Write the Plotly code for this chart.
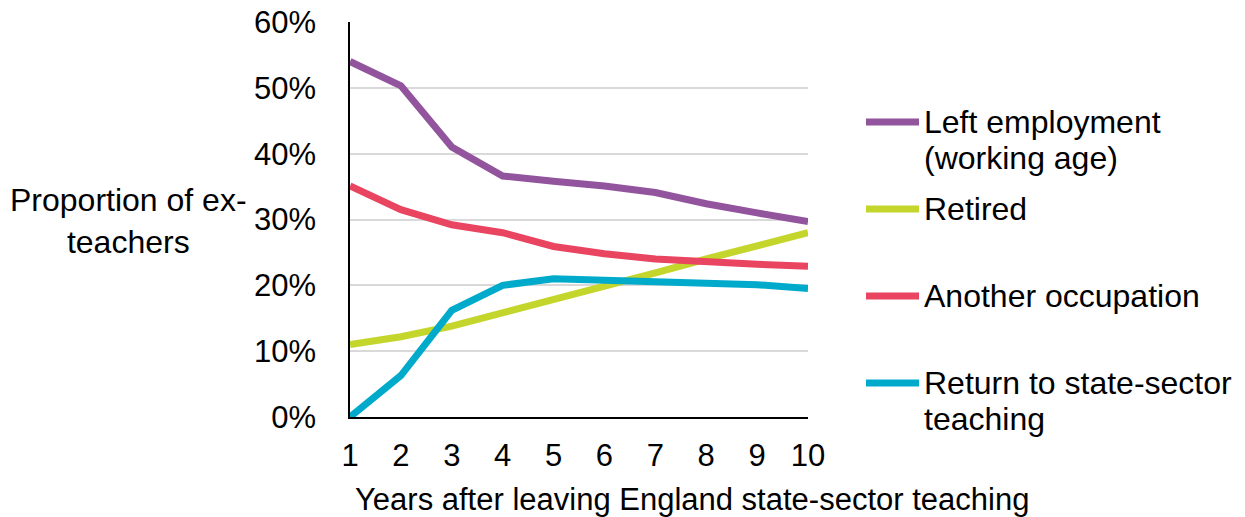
import plotly.graph_objects as go

# Years after leaving state-sector teaching
years = [1, 2, 3, 4, 5, 6, 7, 8, 9, 10]

# Proportion of ex-teachers in each destination
left_employment = [0.540, 0.503, 0.410, 0.366, 0.358, 0.351, 0.341, 0.324, 0.310, 0.297]
retired = [0.110, 0.122, 0.138, 0.158, 0.177, 0.198, 0.219, 0.240, 0.260, 0.280]
another_occupation = [0.351, 0.315, 0.292, 0.280, 0.259, 0.248, 0.240, 0.235, 0.232, 0.229]
return_to_teaching = [0.000, 0.063, 0.162, 0.200, 0.210, 0.208, 0.204, 0.204, 0.201, 0.195]

series_names = [
    ["Left employment", "(working age)"],
    ["Retired"],
    ["Another occupation"],
    ["Return to state-sector", "teaching"],
]
series_values = [left_employment, retired, another_occupation, return_to_teaching]
series_colors = ["#93549E", "#C4D52B", "#E94460", "#00AACB"]

y_ticks = [0, 0.1, 0.2, 0.3, 0.4, 0.5, 0.6]
y_tick_labels = ["0%", "10%", "20%", "30%", "40%", "50%", "60%"]

FONT = "Liberation Sans, Arial, sans-serif"
W, H = 1245, 517
ML, MR, MT, MB = 350, 437, 22, 100
PW, PH = W - ML - MR, H - MT - MB


def px_x(px):
    return (px - ML) / PW


def px_y(py):
    return 1 - (py - MT) / PH


fig = go.Figure()
for name, vals, color in zip(series_names, series_values, series_colors):
    fig.add_trace(go.Scatter(
        x=years, y=vals, mode="lines", name=" ".join(name),
        line=dict(color=color, width=7),
        showlegend=False, hoverinfo="skip",
    ))

# Hand-built legend to the right of the plot area
legend_rows = [122, 209, 296, 383]
line_step = 36
for row_y, name, color in zip(legend_rows, series_names, series_colors):
    fig.add_shape(
        type="line", xref="paper", yref="paper",
        x0=px_x(866), x1=px_x(919), y0=px_y(row_y), y1=px_y(row_y),
        line=dict(color=color, width=7),
    )
    for i, part in enumerate(name):
        fig.add_annotation(
            xref="paper", yref="paper", x=px_x(922), y=px_y(row_y + i * line_step),
            text=part, showarrow=False, xanchor="left", yanchor="middle",
            font=dict(family=FONT, size=32, color="#000000"),
        )

# Horizontal y-axis title
fig.add_annotation(
    xref="paper", yref="paper", x=px_x(128), y=px_y(221),
    text="Proportion of ex-<br>teachers", showarrow=False,
    xanchor="center", yanchor="middle", align="center",
    font=dict(family=FONT, size=32, color="#000000"),
)

# x-axis title
fig.add_annotation(
    xref="paper", yref="paper", x=px_x(692), y=px_y(499),
    text="Years after leaving England state-sector teaching", showarrow=False,
    xanchor="center", yanchor="middle",
    font=dict(family=FONT, size=31, color="#000000"),
)

fig.update_layout(
    width=W, height=H,
    margin=dict(l=ML, r=MR, t=MT, b=MB, autoexpand=False),
    paper_bgcolor="white", plot_bgcolor="white",
    font=dict(family=FONT, size=31, color="#000000"),
    xaxis=dict(
        range=[1, 10], tickvals=years, ticktext=[str(v) for v in years],
        showgrid=False, zeroline=False, automargin=False,
        showline=True, linecolor="#000000", linewidth=1.5,
        ticks="", ticklabelstandoff=10,
    ),
    yaxis=dict(
        range=[0, 0.6], tickvals=y_ticks, ticktext=y_tick_labels,
        showgrid=True, gridcolor="#D9D9D9", gridwidth=1.5,
        zeroline=False, showline=True, linecolor="#000000", linewidth=1.5,
        automargin=False, ticks="", ticklabelstandoff=26,
    ),
)

fig.write_html("out.html")
